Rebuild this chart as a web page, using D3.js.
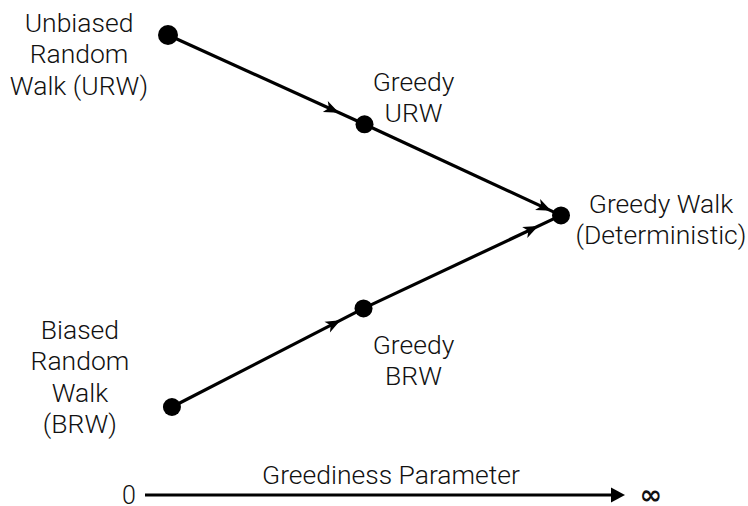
<!DOCTYPE html>
<html lang="en">
    <head>
        <meta charset="utf-8">
        <title>Greediness diagram</title>
        <script src="https://d3js.org/d3.v7.min.js"></script>
        <style>
        body { margin: 0; background: #fff; }
        text {
          font-family: Roboto, "Liberation Sans", sans-serif;
          font-weight: 300;
          fill: #111;
        }
        </style>
    </head>
    <body>
        <script>
        // nodes: greediness (x) and bias (y), in diagram units
        let nodeNames = ["URW", "GreedyURW", "Greedy", "GreedyBRW", "BRW"]
        let nodeX = [0, 1, 2.0, 0.995, 0.02]
        let nodeY = [1, 0.52, 0.03, -0.47, -1]
        let nodeLabels = [
          ["Unbiased", "Random", "Walk (URW)"],
          ["Greedy", "URW"],
          ["Greedy Walk", "(Deterministic)"],
          ["Greedy", "BRW"],
          ["Biased", "Random", "Walk", "(BRW)"]
        ]

        // edges: from, to, where the arrow head sits along the edge
        let edgeFrom = [0, 1, 4, 3]
        let edgeTo = [1, 2, 3, 2]
        let edgeHead = [0.87, 0.95, 0.88, 0.885]

        let axisTicks = ["0", "\u221E"]
        let axisTitle = "Greediness Parameter"

        let w = 748
        let h = 506
        let lh = 31.5

        let x = d3.scaleLinear().domain([0, 2]).range([168, 561])
        let y = d3.scaleLinear().domain([-1, 1]).range([407, 35])
        let ax = d3.scaleLinear().domain([0, 1]).range([129, 651])

        // label block offsets from each node (px)
        let labelOff = [[-89, 28], [49, -18], [100, 13], [50, 61], [-92, -21]]

        let svg = d3.select("body").append("svg")
          .attr("width", w)
          .attr("height", h)

        let headPath = "M0,0 L-15,-6 L-11,0 L-15,6 Z"

        // edges
        edgeFrom.forEach((f, i) => {
          let t = edgeTo[i]
          let x1 = x(nodeX[f]), y1 = y(nodeY[f])
          let x2 = x(nodeX[t]), y2 = y(nodeY[t])
          svg.append("line")
            .attr("x1", x1).attr("y1", y1)
            .attr("x2", x2).attr("y2", y2)
            .attr("stroke", "#000")
            .attr("stroke-width", 3.2)
          let hx = x1 + (x2 - x1) * edgeHead[i]
          let hy = y1 + (y2 - y1) * edgeHead[i]
          let ang = Math.atan2(y2 - y1, x2 - x1) * 180 / Math.PI
          svg.append("path")
            .attr("d", headPath)
            .attr("transform", `translate(${hx},${hy}) rotate(${ang})`)
            .attr("fill", "#000")
        })

        // nodes
        svg.selectAll("circle.node")
          .data(nodeNames)
          .enter()
          .append("circle")
          .attr("class", "node")
          .attr("cx", (d, i) => x(nodeX[i]))
          .attr("cy", (d, i) => y(nodeY[i]))
          .attr("r", (d, i) => i ? 9 : 10)
          .attr("fill", "#000")

        // node labels
        nodeLabels.forEach((lines, i) => {
          let cx = x(nodeX[i]) + labelOff[i][0]
          let cy = y(nodeY[i]) + labelOff[i][1]
          let t = svg.append("text")
            .attr("text-anchor", "middle")
            .attr("font-size", "26.5px")
          lines.forEach((s, j) => {
            t.append("tspan")
              .attr("x", cx)
              .attr("y", cy + (j - (lines.length - 1) / 2) * lh)
              .text(s)
          })
        })

        // greediness axis
        let ay = 495
        svg.append("line")
          .attr("x1", ax(0) + 16).attr("y1", ay)
          .attr("x2", ax(1) - 36).attr("y2", ay)
          .attr("stroke", "#000")
          .attr("stroke-width", 3.2)
        svg.append("path")
          .attr("d", "M0,0 L-14,-7.5 L-14,7.5 Z")
          .attr("transform", `translate(${ax(1) - 26},${ay})`)
          .attr("fill", "#000")

        svg.selectAll("text.tick")
          .data(axisTicks)
          .enter()
          .append("text")
          .attr("class", "tick")
          .attr("x", (d, i) => ax(i))
          .attr("y", (d, i) => i ? 504 : 504)
          .attr("text-anchor", "middle")
          .attr("font-size", (d, i) => i ? "27px" : "25px")
          .style("font-family", (d, i) => i ? "'DejaVu Sans'" : null)
          .style("font-weight", (d, i) => i ? 700 : 300)
          .text(d => d)

        svg.append("text")
          .attr("x", 391)
          .attr("y", 484)
          .attr("text-anchor", "middle")
          .attr("font-size", "26.5px")
          .text(axisTitle)
        </script>
    </body>
</html>
